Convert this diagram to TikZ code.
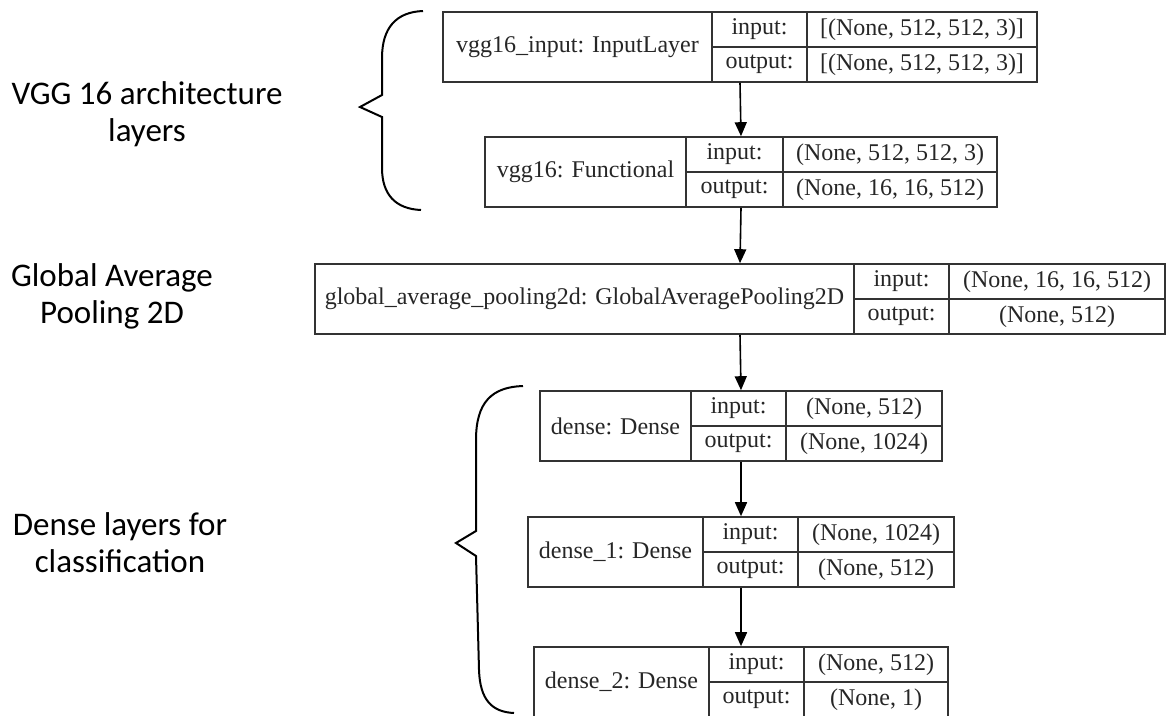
\documentclass[tikz,border=0pt]{standalone}
\usepackage{fontspec}
\setmainfont{Liberation Serif}
\newfontfamily\calib{Carlito}
\usetikzlibrary{arrows.meta}

\tikzset{
	cell/.style={draw=black!80, line width=1.6pt, inner sep=0pt,
		text=black!85, font=\fontsize{24}{26}\selectfont},
	flow/.style={line width=1.6pt, -{Triangle[width=12pt, length=14pt]}},
	brace/.style={line width=2pt, line join=miter},
	side/.style={align=center, font=\calib\fontsize{33}{37}\selectfont}
}

% one keras layer: name, x left, x split 1, x split 2, x right, y top, label, input, output
\newcommand{\kerasbox}[9]{%
	\node[cell, minimum width={#5-#2}, minimum height=70] (#1) at ({(#2+#5)/2}, {#6+35}) {};
	\node[cell, minimum width={#3-#2}, minimum height=70] (#1-name) at ({(#2+#3)/2}, {#6+35}) {#7};
	\node[cell, minimum width={#4-#3}, minimum height=35] (#1-inl) at ({(#3+#4)/2}, {#6+17.5}) {input:};
	\node[cell, minimum width={#4-#3}, minimum height=35] (#1-outl) at ({(#3+#4)/2}, {#6+52.5}) {output:};
	\node[cell, minimum width={#5-#4}, minimum height=35] (#1-in) at ({(#4+#5)/2}, {#6+17.5}) {#8};
	\node[cell, minimum width={#5-#4}, minimum height=35] (#1-out) at ({(#4+#5)/2}, {#6+52.5}) {#9};
}

\begin{document}
\begin{tikzpicture}[x=1pt, y=-1pt]
	\useasboundingbox (0, 0) rectangle (1166, 715);

		\kerasbox{inp}{443}{712}{807}{1037}{12}{vgg16\_input: InputLayer}{[(None, 512, 512, 3)]}{[(None, 512, 512, 3)]}
		\kerasbox{vgg}{485}{686}{783}{997}{137}{vgg16: Functional}{(None, 512, 512, 3)}{(None, 16, 16, 512)}
		\kerasbox{gap}{315}{854}{949}{1165}{264}{global\_average\_pooling2d: GlobalAveragePooling2D}{(None, 16, 16, 512)}{(None, 512)}
		\kerasbox{dense}{540}{691}{786}{942}{391}{dense: Dense}{(None, 512)}{(None, 1024)}
		\kerasbox{denseA}{528}{703}{798}{954}{517}{dense\_1: Dense}{(None, 1024)}{(None, 512)}
		\kerasbox{denseB}{534}{709}{804}{948}{647}{dense\_2: Dense}{(None, 512)}{(None, 1)}

		\draw[flow] (inp.south) -- (vgg.north);
		\draw[flow] (vgg.south) -- (gap.north);
		\draw[flow] (gap.south) -- (dense.north);
		\draw[flow] (dense.south) -- (denseA.north);
		\draw[flow] (denseA.south) -- (denseB.north);

		% braces
		\draw[brace] (423, 11) .. controls (396, 12) and (382, 28) .. (382, 58)
			-- (382, 95) -- (360, 107) -- (382, 117) -- (382, 168)
			.. controls (382, 195) and (396, 209) .. (421, 210);
		\draw[brace] (523, 386) .. controls (492, 387) and (476, 402) .. (476, 440)
			-- (476, 531) -- (456, 543) -- (476, 556) -- (479, 670)
			.. controls (480, 700) and (492, 712) .. (514, 713);

		\node[side] (vggtxt) at (147, 114) {VGG 16 architecture\\layers};
		\node[side] (gaptxt) at (112, 296) {Global Average\\Pooling 2D};
		\node[side] (densetxt) at (120, 543) {Dense layers for\\classification};
\end{tikzpicture}
\end{document}
